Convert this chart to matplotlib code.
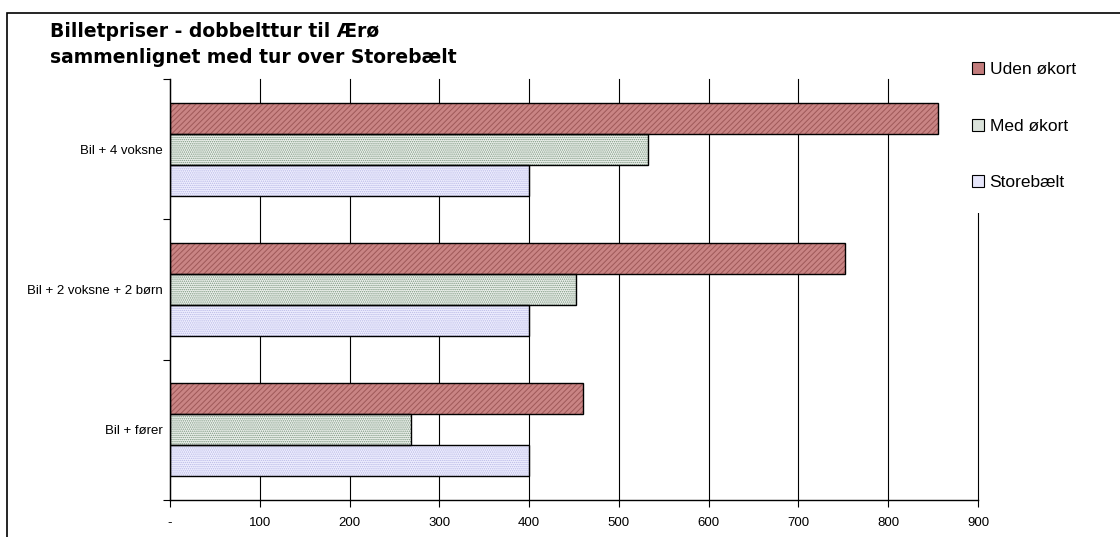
import matplotlib
matplotlib.use("Agg")
import matplotlib.pyplot as plt
from matplotlib.patches import Patch, Rectangle
import numpy as np

plt.rcParams['font.family'] = ['Liberation Sans', 'DejaVu Sans']
plt.rcParams['hatch.linewidth'] = 0.7

# ticket prices, round trip (DKK)
categories = ["Bil + 4 voksne", "Bil + 2 voksne + 2 børn", "Bil + fører"]
uden_okort = [855, 752, 460]
med_okort = [532, 452, 268]
storebaelt = [400, 400, 400]
series_names = ["Uden økort", "Med økort", "Storebælt"]
x_ticks = [0, 100, 200, 300, 400, 500, 600, 700, 800, 900]
x_labels = ["-", "100", "200", "300", "400", "500", "600", "700", "800", "900"]

styles = [
    dict(face="#c98484", hatch="//////", hc="#9e5858", legend="#c27c7c"),
    dict(face="#eef2ee", hatch="........", hc="#7a957e", legend="#dbe3db"),
    dict(face="#f0f0ff", hatch="........", hc="#b8b8e6", legend="#e6e6fa"),
]

fig = plt.figure(figsize=(11.2, 5.37), dpi=100)
ax = fig.add_axes([170 / 1120, 1 - 500 / 537, 808 / 1120, 421 / 537])

centers = np.arange(len(categories)) + 0.5
h = 0.221
offsets = [-h, 0, h]
for vals, off, st in zip([uden_okort, med_okort, storebaelt], offsets, styles):
    ax.barh(centers + off, vals, height=h, color=st["face"], hatch=st["hatch"],
            edgecolor=st["hc"], linewidth=0, zorder=2)
    ax.barh(centers + off, vals, height=h, fill=False, edgecolor="black",
            linewidth=1.0, zorder=3)

ax.set_xlim(0, 900)
ax.set_ylim(3, 0)
ax.set_xticks(x_ticks)
ax.set_xticklabels(x_labels, fontsize=9.5)
ax.tick_params(axis="x", direction="out", length=5, width=0.8, pad=7)

ax.set_yticks(np.arange(len(categories) + 1))
ax.set_yticklabels([])
ax.tick_params(axis="y", which="major", direction="out", length=5, width=0.8)
ax.set_yticks(centers, minor=True)
ax.set_yticklabels(categories, minor=True, fontsize=9.5)
ax.tick_params(axis="y", which="minor", length=0, pad=5)

ax.xaxis.grid(True, color="black", linewidth=0.8, zorder=0)
for gl in ax.xaxis.get_gridlines():
    gl.set_clip_on(False)
ax.set_axisbelow(True)
for s in ["top", "right"]:
    ax.spines[s].set_visible(False)
for s in ["left", "bottom"]:
    ax.spines[s].set_linewidth(1.0)

fig.text(50 / 1120, 1 - 22 / 537,
         "Billetpriser - dobbelttur til Ærø\nsammenlignet med tur over Storebælt",
         fontsize=13.5, fontweight="bold", va="top", ha="left", linespacing=1.45,
         family="DejaVu Sans")

handles = [Patch(facecolor=st["legend"], edgecolor="black", linewidth=0.8)
           for st in styles]
leg = fig.legend(handles, series_names, loc="upper left",
                 bbox_to_anchor=(941 / 1120, 1 - 31 / 537), fontsize=12.5,
                 frameon=True, fancybox=False, edgecolor="none",
                 labelspacing=2.37, handlelength=0.7, handleheight=0.7,
                 handletextpad=0.3, borderpad=1.3)
leg.get_frame().set_facecolor("white")
leg.get_frame().set_alpha(1)

# outer chart border
fig.add_artist(Rectangle((7 / 1120, -0.5), 2, 0.5 + 1 - 13 / 537,
                         transform=fig.transFigure, fill=False,
                         edgecolor="black", linewidth=1.2, clip_on=False))

fig.savefig("out.png", dpi=100)
